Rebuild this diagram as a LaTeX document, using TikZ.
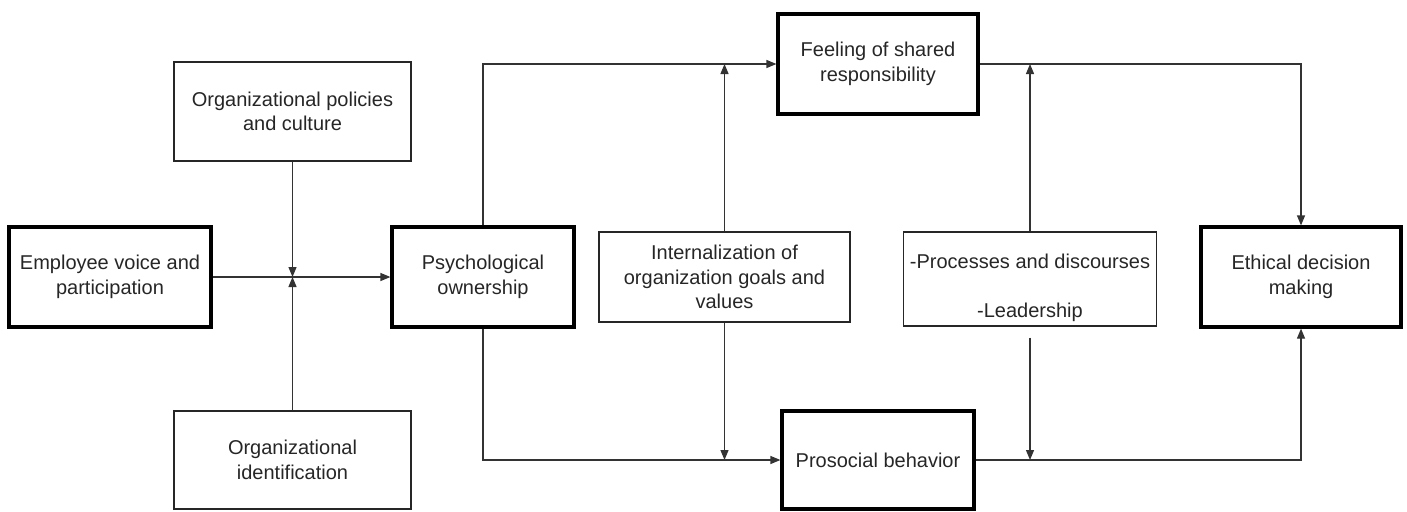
\documentclass[tikz,border=0pt]{standalone}
\usepackage{fontspec}
\setmainfont{Liberation Sans}
\usetikzlibrary{arrows.meta}
\tikzset{
  box/.style={draw=black!85, line width=1.2pt, rectangle, inner sep=0pt, align=center,
    font=\fontsize{20}{24.5}\selectfont, text=black!85},
  mainbox/.style={box, draw=black, line width=3.2pt},
  arr/.style={draw=black!80, line width=1.2pt, -{Triangle[length=10pt,width=8pt]}},
}
\begin{document}
\begin{tikzpicture}[x=1pt,y=-1pt]
\useasboundingbox (0,0) rectangle (1407,511);
\node[mainbox, minimum width=202pt, minimum height=100pt] (emp) at (110,277) {Employee voice and\\participation};
\node[box, minimum width=237pt, minimum height=99pt] (pol) at (292.5,111.5) {Organizational policies\\and culture};
\node[box, minimum width=237pt, minimum height=98pt] (ident) at (292.5,460) {Organizational\\identification};
\node[mainbox, minimum width=182pt, minimum height=100pt] (psy) at (483,277) {Psychological\\ownership};
\node[mainbox, minimum width=200pt, minimum height=100pt] (feel) at (878,64) {Feeling of shared\\responsibility};
\node[box, minimum width=251pt, minimum height=90pt] (intern) at (724.5,277) {Internalization of\\organization goals and\\values};
\node[box, minimum width=253pt, minimum height=94pt] (proc) at (1030,279) {\raisebox{-9pt}[\height][\depth]{\begin{tabular}{@{}c@{}}-Processes and discourses\\[24.5pt]-Leadership\end{tabular}}};
\node[mainbox, minimum width=200pt, minimum height=100pt] (eth) at (1301,277) {Ethical decision\\making};
\node[mainbox, minimum width=192pt, minimum height=98pt] (pro) at (878,460) {Prosocial behavior};

\draw[arr] (emp.east) -- (psy.west);
\draw[arr] (pol.south) -- (pol.south |- emp.east);
\draw[arr] (ident.north) -- (ident.north |- emp.east);
\draw[arr] (psy.north) |- (feel.west);
\draw[arr] (intern.north) -- (intern.north |- feel.west);
\draw[arr] (psy.south) |- (pro.west);
\draw[arr] (intern.south) -- (intern.south |- pro.west);
\draw[arr] (feel.east) -| (eth.north);
\draw[arr] (proc.north) -- (proc.north |- feel.east);
\coordinate (procgap) at ([yshift=-11pt]proc.south);
\draw[arr] (procgap) -- (procgap |- pro.east);
\draw[arr] (pro.east) -| (eth.south);
\end{tikzpicture}
\end{document}
